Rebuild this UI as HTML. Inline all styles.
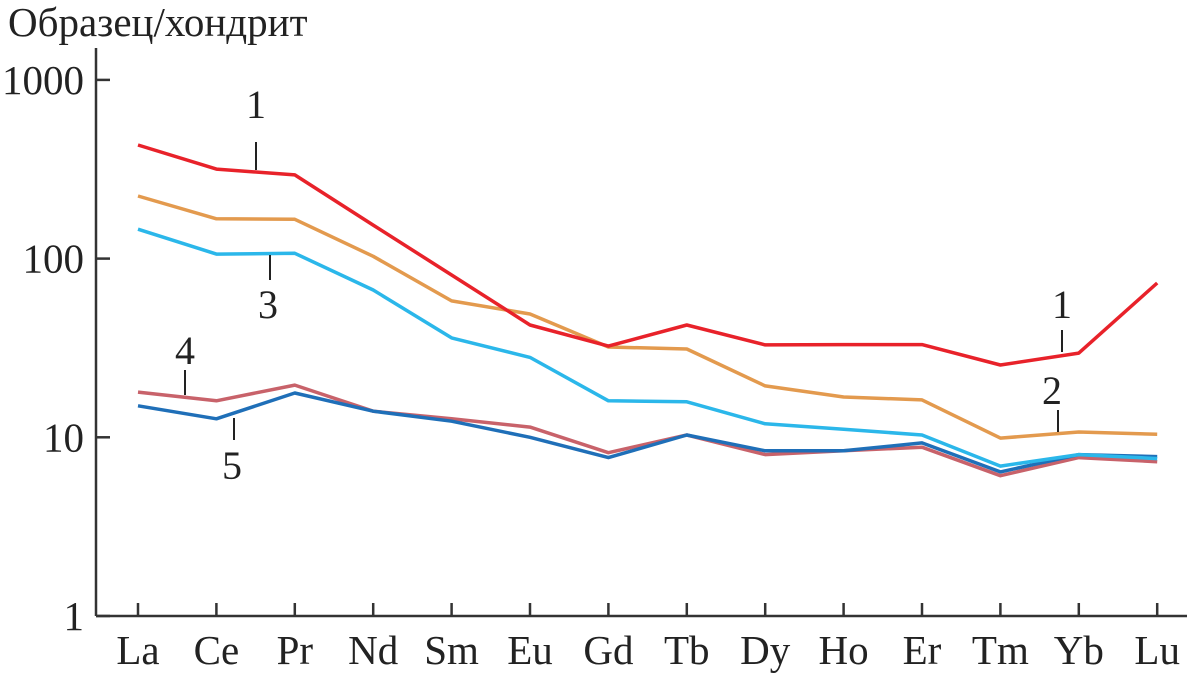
<!DOCTYPE html>
<html><head><meta charset="utf-8"><style>
html,body{margin:0;padding:0;background:#fff;}
svg{display:block;font-family:"Liberation Serif",serif;}
</style></head><body>
<svg id="chart" width="1187" height="677" viewBox="0 0 1187 677">
<text x="8" y="36" font-size="41" fill="#222">Образец/хондрит</text>
<g id="axes"></g>
<g id="series"></g>
<g id="labels"></g>
</svg>
<script>
const categories=["La","Ce","Pr","Nd","Sm","Eu","Gd","Tb","Dy","Ho","Er","Tm","Yb","Lu"];
const yTicks=[1,10,100,1000];
const s1=[432,317,294,154,81,42.5,32.4,42.5,32.9,33,33,25.4,29.6,73];
const s2=[224,167,166,103,58,49,32,31.2,19.4,16.8,16.2,9.9,10.7,10.4];
const s3=[146,106,107,66.7,36,28,16,15.8,11.9,11.1,10.3,6.9,8.0,7.6];
const s4=[17.9,16,19.6,14.0,12.7,11.4,8.2,10.3,8.0,8.4,8.8,6.1,7.7,7.3];
const s5=[15,12.7,17.7,14,12.3,10,7.7,10.3,8.4,8.4,9.3,6.4,8.0,7.8];
const seriesList=[
 {name:"series-4",data:s4,color:"#c8626a"},
 {name:"series-5",data:s5,color:"#1f6fb8"},
 {name:"series-3",data:s3,color:"#2bb7ea"},
 {name:"series-2",data:s2,color:"#e39a4e"},
 {name:"series-1",data:s1,color:"#e8222a"}];
const NS="http://www.w3.org/2000/svg";
const x0=96,y0=616,x1=1187,yTop=48;
function xs(i){return 138+i*78.4;}
function ys(v){return y0-Math.log10(v)*178.7;}
function mk(tag,attrs,parent){const e=document.createElementNS(NS,tag);for(const k in attrs)e.setAttribute(k,attrs[k]);parent.appendChild(e);return e;}
const ax=document.getElementById('axes');
let e=mk('line',{x1:x0,y1:yTop,x2:x0,y2:y0,stroke:"#333","stroke-width":2.5},ax);


e=mk('line',{x1:x0,y1:y0,x2:x1,y2:y0,stroke:"#333","stroke-width":2.5},ax);


yTicks.forEach(t=>{
 const y=ys(t);
 let l=mk('line',{x1:x0,y1:y,x2:x0+14,y2:y,stroke:"#333","stroke-width":2.5},ax);
 
 
 let tx=mk('text',{x:84,y:y+14,"font-size":41,"text-anchor":"end",fill:"#222"},ax);
 tx.textContent=t;
 
 
});
categories.forEach((c,i)=>{
 const x=xs(i);
 let l=mk('line',{x1:x,y1:y0,x2:x,y2:y0-13,stroke:"#333","stroke-width":2.5},ax);
 
 
 let tx=mk('text',{x:x,y:664,"font-size":41,"text-anchor":"middle",fill:"#222"},ax);
 tx.textContent=c;
 
 
});
const sg=document.getElementById('series');
seriesList.forEach(s=>{
 const pts=s.data.map((v,i)=>xs(i).toFixed(1)+","+ys(v).toFixed(1)).join(" ");
 let p=mk('polyline',{points:pts,fill:"none",stroke:s.color,"stroke-width":3.5,"stroke-linejoin":"round"},sg);
 
 
});
const lg=document.getElementById('labels');
const ann=[["1",256,118,142,170,256],["3",268,318,255,280,270],["4",185,364,370,395,185],["5",232,479,418,440,234],["1",1062,318,330,352,1062],["2",1052,404,410,432,1058]];
ann.forEach(a=>{
 let tx=mk('text',{x:a[1],y:a[2],"font-size":40,"text-anchor":"middle",fill:"#222"},lg);
 tx.textContent=a[0];
 
 
 let l=mk('line',{x1:a[5],y1:a[3],x2:a[5],y2:a[4],stroke:"#222","stroke-width":2},lg);
 
 
});
</script>
</body></html>
